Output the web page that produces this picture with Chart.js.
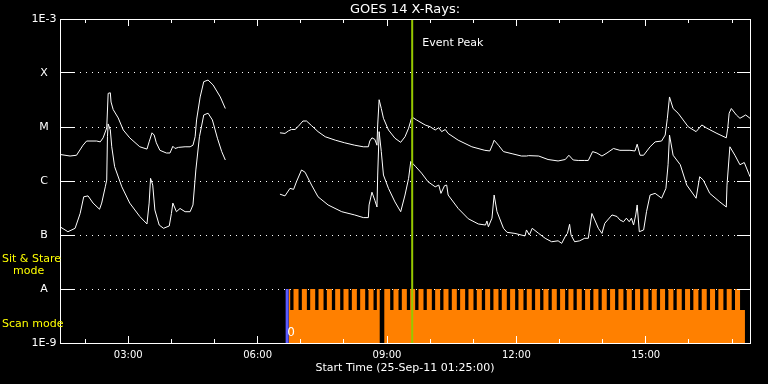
<!DOCTYPE html>
<html><head><meta charset="utf-8">
<script src="https://cdn.jsdelivr.net/npm/chart.js@4"></script>
<style>html,body{margin:0;padding:0;background:#000;}canvas{display:block;}</style>
</head><body>
<canvas id="c" width="768" height="384"></canvas>
<script>
// ---------- DATA ----------
const axisStart = '01:25';
const axisEnd = '17:25';
const xTickLabels = ['03:00', '06:00', '09:00', '12:00', '15:00'];
const xMinorTickLabels = ['02:00','03:00','04:00','05:00','06:00','07:00','08:00','09:00','10:00','11:00','12:00','13:00','14:00','15:00','16:00','17:00'];
const yTickValues = [1e-9, 1e-8, 1e-7, 1e-6, 1e-5, 1e-4, 1e-3];
const yTickLabels = ['1E-9', 'A', 'B', 'C', 'M', 'X', '1E-3'];

// GOES 14 long channel (1-8 A), W/m^2 ; null = data gap
const longTimes = ['01:25','01:39','01:48','01:57','02:02','02:16','02:21','02:25','02:30','02:32',
 '02:35','02:36','02:39','02:46','02:53','03:02','03:16','03:26','03:29','03:33',
 '03:36','03:39','03:44','03:53','03:58','04:02','04:05','04:10','04:19','04:26',
 '04:30','04:33','04:35','04:40','04:45','04:51','04:58','05:08','05:15','05:50',
 '06:31','06:38','06:43','06:47','06:52','06:56','07:03','07:08','07:15','07:24',
 '07:34','07:48','08:01','08:15','08:27','08:34','08:36','08:39','08:43','08:46',
 '08:47','08:49','08:52','08:55','09:02','09:11','09:19','09:25','09:30','09:34',
 '09:36','09:41','09:53','10:00','10:07','10:12','10:16','10:21','10:25','10:39',
 '10:58','11:16','11:23','11:27','11:29','11:35','11:42','11:54','12:07','12:14',
 '12:17','12:31','12:44','12:58','13:08','13:13','13:19','13:26','13:35','13:40',
 '13:46','13:52','13:59','14:06','14:15','14:24','14:38','14:45','14:48','14:52',
 '14:57','15:06','15:13','15:22','15:27','15:30','15:33','15:38','15:45','15:52',
 '15:59','16:10','16:18','16:25','16:39','16:52','16:54','16:56','16:59','17:06',
 '17:11','17:19','17:25'];
const longFlux = [3.1e-6,2.9e-6,3.0e-6,4.6e-6,5.5e-6,5.5e-6,5.3e-6,6.3e-6,9.6e-6,4.2e-5,
 4.3e-5,2.9e-5,2.1e-5,1.47e-5,8.8e-6,6.3e-6,4.3e-6,3.9e-6,5.3e-6,7.8e-6,
 7.1e-6,5.1e-6,3.7e-6,3.3e-6,3.3e-6,4.4e-6,4.0e-6,4.2e-6,4.3e-6,4.3e-6,
 4.6e-6,6.6e-6,1.35e-5,3.6e-5,6.9e-5,7.4e-5,6.0e-5,3.6e-5,2.2e-5,null,
 7.8e-6,7.6e-6,8.5e-6,9.0e-6,9.0e-6,1.01e-5,1.29e-5,1.29e-5,1.06e-5,8.2e-6,
 6.6e-6,5.7e-6,5.1e-6,4.6e-6,4.3e-6,4.3e-6,5.5e-6,6.3e-6,5.9e-6,4.6e-6,
 1.09e-5,3.2e-5,2.2e-5,1.45e-5,8.8e-6,6.2e-6,5.2e-6,6.6e-6,9.5e-6,1.45e-5,
 1.49e-5,1.35e-5,1.09e-5,1.01e-5,8.8e-6,9.7e-6,8.2e-6,9.0e-6,7.6e-6,5.7e-6,
 4.3e-6,3.7e-6,3.6e-6,4.8e-6,5.7e-6,4.6e-6,3.5e-6,3.2e-6,2.9e-6,2.9e-6,
 2.95e-6,2.9e-6,2.5e-6,2.35e-6,2.5e-6,3.0e-6,2.45e-6,2.4e-6,2.4e-6,2.4e-6,
 3.5e-6,3.3e-6,2.9e-6,3.3e-6,4.0e-6,3.7e-6,3.7e-6,3.6e-6,4.8e-6,3.0e-6,
 3.0e-6,4.3e-6,5.3e-6,5.5e-6,7.1e-6,1.45e-5,3.6e-5,2.2e-5,1.8e-5,1.35e-5,
 1.01e-5,8.2e-6,1.09e-5,9.5e-6,7.6e-6,6.3e-6,9.5e-6,1.8e-5,2.2e-5,1.67e-5,
 1.45e-5,1.67e-5,1.45e-5];

// GOES 14 short channel (0.5-4 A), W/m^2
const shortTimes = ['01:25','01:36','01:46','01:53','01:58','02:04','02:11','02:20','02:23','02:28',
 '02:30','02:31','02:32','02:35','02:37','02:41','02:51','03:02','03:16','03:26',
 '03:29','03:31','03:34','03:37','03:43','03:49','03:57','04:00','04:02','04:07',
 '04:12','04:19','04:26','04:30','04:34','04:39','04:45','04:51','04:57','05:04',
 '05:10','05:15','05:50',
 '06:31','06:38','06:45','06:50','06:54','07:01','07:06','07:15','07:24','07:38',
 '07:57','08:15','08:27','08:34','08:35','08:39','08:43','08:46','08:47','08:49',
 '08:52','08:55','09:02','09:11','09:19','09:25','09:30','09:33','09:40','09:48',
 '09:57','10:07','10:12','10:15','10:20','10:23','10:25','10:39','10:53','11:07',
 '11:17','11:19','11:21','11:26','11:29','11:33','11:42','11:47','11:58','12:12',
 '12:14','12:18','12:22','12:31','12:40','12:49','12:58','13:03','13:09','13:11',
 '13:14','13:16','13:21','13:28','13:35','13:40','13:45','13:49','13:54','13:59',
 '14:03','14:13','14:20','14:24','14:29','14:33','14:37','14:40','14:43','14:46',
 '14:48','14:51','14:57','15:01','15:06','15:13','15:22','15:28','15:31','15:33',
 '15:38','15:48','15:57','16:10','16:15','16:20','16:29','16:43','16:52','16:53',
 '16:57','17:04','17:11','17:17','17:23','17:25'];
const shortFlux = [1.42e-7,1.15e-7,1.33e-7,2.5e-7,5.1e-7,5.3e-7,3.9e-7,3.0e-7,3.9e-7,7.8e-7,
 1.04e-6,6.6e-6,1.14e-5,8.8e-6,4.3e-6,1.84e-6,7.8e-7,3.9e-7,2.2e-7,1.6e-7,
 3.9e-7,1.12e-6,8.4e-7,2.9e-7,1.53e-7,1.33e-7,1.47e-7,2.5e-7,3.9e-7,2.7e-7,
 3.1e-7,2.7e-7,2.7e-7,3.6e-7,1.6e-6,6.6e-6,1.67e-5,1.8e-5,1.35e-5,6.2e-6,
 3.5e-6,2.45e-6,null,
 5.7e-7,5.3e-7,7.3e-7,7.0e-7,9.7e-7,1.6e-6,1.45e-6,8.4e-7,5.1e-7,3.6e-7,
 2.7e-7,2.35e-7,2.1e-7,2.1e-7,3.6e-7,6.2e-7,4.4e-7,3.3e-7,1.29e-6,8.2e-6,
 3.5e-6,1.29e-6,7.3e-7,4.1e-7,2.7e-7,5.5e-7,1.12e-6,2.3e-6,1.84e-6,1.4e-6,
 9.7e-7,7.8e-7,8.4e-7,5.9e-7,8.2e-7,8.4e-7,5.5e-7,3.1e-7,2.0e-7,1.6e-7,
 1.53e-7,1.82e-7,1.42e-7,2.05e-7,5.5e-7,2.7e-7,1.33e-7,1.12e-7,1.07e-7,9.6e-8,
 1.24e-7,1.0e-7,1.33e-7,1.07e-7,8.7e-8,7.5e-8,7.8e-8,7.0e-8,1.0e-7,1.07e-7,
 1.58e-7,1.0e-7,7.5e-8,7.8e-8,8.7e-8,8.7e-8,2.5e-7,1.9e-7,1.33e-7,1.07e-7,
 1.65e-7,2.35e-7,2.2e-7,1.9e-7,1.76e-7,2.05e-7,1.76e-7,2.05e-7,1.53e-7,2.35e-7,
 3.6e-7,1.15e-7,1.24e-7,2.7e-7,5.5e-7,5.9e-7,4.8e-7,7.3e-7,2.0e-6,7.1e-6,
 3.0e-6,2.0e-6,8.4e-7,4.8e-7,1.2e-6,1.04e-6,5.9e-7,4.1e-7,3.3e-7,8.4e-7,
 4.3e-6,3.0e-6,2.0e-6,2.2e-6,1.4e-6,1.2e-6];

// Observing mode timeline (sit & stare level vs scan level)
const SIT_LEVEL = 1e-8;
const SCAN_LEVEL = 4.1e-9;
const modeStart = '06:43';
const modeEnd = '17:18';
const modeGapStart = '08:50';
const modeGapEnd = '08:56';
const scanNotchStart = ['06:45:18','06:56:53','07:08:29','07:20:04','07:31:40','07:43:15','07:54:50','08:06:26','08:18:01','08:29:37',
 '08:41:12','09:04:23','09:15:58','09:27:34','09:39:09','09:50:44','10:02:20','10:13:55','10:25:31','10:37:06',
 '10:48:41','11:00:17','11:11:52','11:23:28','11:35:03','11:46:38','11:58:14','12:09:49','12:21:25','12:33:00',
 '12:44:35','12:56:11','13:07:46','13:19:22','13:30:57','13:42:32','13:54:08','14:05:43','14:17:19','14:28:54',
 '14:40:29','14:52:05','15:03:40','15:15:16','15:26:51','15:38:26','15:50:02','16:01:37','16:13:13','16:24:48',
 '16:36:23','16:47:59','16:59:34','17:11:10'];
const scanNotchEnd = ['06:49:54','07:01:29','07:13:05','07:24:40','07:36:16','07:47:51','07:59:26','08:11:02','08:22:37','08:34:13',
 '08:45:48','09:08:59','09:20:34','09:32:10','09:43:45','09:55:20','10:06:56','10:18:31','10:30:07','10:41:42',
 '10:53:17','11:04:53','11:16:28','11:28:04','11:39:39','11:51:14','12:02:50','12:14:25','12:26:01','12:37:36',
 '12:49:11','13:00:47','13:12:22','13:23:58','13:35:33','13:47:08','13:58:44','14:10:19','14:21:55','14:33:30',
 '14:45:05','14:56:41','15:08:16','15:19:52','15:31:27','15:43:02','15:54:38','16:06:13','16:17:49','16:29:24',
 '16:40:59','16:52:35','17:04:10'];
const modeMarkerTime = '06:41';
const eventPeakTime = '09:35';

// ---------- BUILD ----------
function toHours(s){ const p = s.split(':').map(Number); return p[0] + p[1]/60 + (p[2]||0)/3600; }
function series(times, vals){ return times.map((t,i)=>({x:toHours(t), y:vals[i]})); }
function modeSeries(){
  const pts = [{x:toHours(modeStart), y:SIT_LEVEL}];
  const gs = toHours(modeGapStart), ge = toHours(modeGapEnd);
  let gapDone = false;
  for (let i=0;i<scanNotchStart.length;i++){
    const s = toHours(scanNotchStart[i]);
    if (!gapDone && s > gs){
      pts.push({x:gs, y:SIT_LEVEL});
      pts.push({x:(gs+ge)/2, y:null});
      pts.push({x:ge, y:SIT_LEVEL});
      gapDone = true;
    }
    pts.push({x:s, y:SCAN_LEVEL});
    if (i < scanNotchEnd.length) pts.push({x:toHours(scanNotchEnd[i]), y:SIT_LEVEL});
  }
  pts.push({x:toHours(modeEnd), y:SCAN_LEVEL});
  return pts;
}
function vline(t, y0, y1){ return [{x:toHours(t), y:y0}, {x:toHours(t), y:y1}]; }

Chart.defaults.font.family = "'DejaVu Sans', sans-serif";
Chart.defaults.color = '#fff';

const decor = {
  id: 'decor',
  beforeDraw(chart){
    const c = chart.ctx; c.save(); c.fillStyle = '#000'; c.fillRect(0,0,chart.width,chart.height); c.restore();
  },
  afterDatasetsDraw(chart){
    const c = chart.ctx, a = chart.chartArea, x = chart.scales.x, y = chart.scales.y;
    const al = p => Math.round(p - 0.5) + 0.5;
    c.save();
    c.strokeStyle = '#fff'; c.lineWidth = 1;
    c.strokeRect(a.left + 0.5, a.top + 0.5, a.right - a.left, a.bottom - a.top);
    c.beginPath();
    xMinorTickLabels.forEach(t => {
      const px = al(x.getPixelForValue(toHours(t)));
      const len = xTickLabels.includes(t) ? 7 : 4;
      c.moveTo(px, a.bottom); c.lineTo(px, a.bottom - len);
      c.moveTo(px, a.top); c.lineTo(px, a.top + len);
    });
    yTickValues.forEach(v => {
      const py = al(y.getPixelForValue(v));
      c.moveTo(a.left, py); c.lineTo(a.left + 14, py);
      c.moveTo(a.right, py); c.lineTo(a.right - 13, py);
    });
    c.stroke();
    // annotations
    const yA = y.getPixelForValue(SIT_LEVEL);
    c.textBaseline = 'middle';
    c.fillStyle = '#ffff00';
    c.font = "11px 'DejaVu Sans'";
    c.textAlign = 'left';
    c.fillText('Sit & Stare', 2, yA - 30);
    c.fillText('mode', 13, yA - 18);
    c.fillText('Scan mode', 2, yA + 35);
    c.fillStyle = '#fff';
    c.fillText('Event Peak', x.getPixelForValue(toHours(eventPeakTime)) + 10, a.top + 24);
    c.font = "12px 'DejaVu Sans'";
    c.textAlign = 'center';
    c.fillText('0', x.getPixelForValue(toHours(modeMarkerTime)) + 4, yA + 44);
    c.restore();
  }
};

new Chart(document.getElementById('c'), {
  type: 'line',
  data: {
    datasets: [
      { label:'Event Peak', data: vline(eventPeakTime, 1e-9, 1e-3), borderColor:'rgb(150,200,0)', borderWidth:2, pointRadius:0 },
      { label:'Long', data: series(longTimes, longFlux), borderColor:'#fff', borderWidth:1, pointRadius:0, spanGaps:false, tension:0 },
      { label:'Short', data: series(shortTimes, shortFlux), borderColor:'#fff', borderWidth:1, pointRadius:0, spanGaps:false, tension:0 },
      { label:'Mode start', data: vline(modeMarkerTime, 1e-9, SIT_LEVEL), borderColor:'#5a5aff', borderWidth:3, pointRadius:0 },
      { label:'Mode', data: modeSeries(), stepped:true, fill:'start', backgroundColor:'#ff8000', borderColor:'rgba(0,0,0,0)', borderWidth:0, pointRadius:0, spanGaps:false }
    ]
  },
  options: {
    responsive: false,
    animation: false,
    devicePixelRatio: 1,
    layout: { padding: { left:0, right:18, top:0, bottom:0 } },
    plugins: {
      legend: { display:false },
      tooltip: { enabled:false },
      title: { display:true, fullSize:false, text:'GOES 14 X-Rays:', color:'#fff', font:{ size:13, weight:'normal' }, padding:{ top:1.5, bottom:1.9 } }
    },
    scales: {
      x: {
        type:'linear', min: toHours(axisStart), max: toHours(axisEnd),
        afterBuildTicks: ax => { ax.ticks = xTickLabels.map(l => ({ value: toHours(l) })); },
        afterFit: ax => { ax.height = 41; },
        ticks: { color:'#fff', font:{ size:10 }, padding:6, maxRotation:0, autoSkip:false, callback:(v,i)=>xTickLabels[i] },
        grid: { display:false, drawTicks:false },
        border: { display:false },
        title: { display:true, text:'Start Time (25-Sep-11 01:25:00)', color:'#fff', font:{ size:11 }, padding:{ top:0, bottom:9 } }
      },
      y: {
        type:'logarithmic', min:1e-9, max:1e-3,
        afterBuildTicks: ax => { ax.ticks = yTickValues.map(v => ({ value: v })); },
        afterFit: ax => { ax.width = 60; },
        ticks: { color:'#fff', font:{ size:11 }, padding:3.5, crossAlign:'center', autoSkip:false, callback:(v,i)=>yTickLabels[i] },
        grid: { drawTicks:false, lineWidth:1, color: ctx => (ctx.tick && (ctx.tick.value === 1e-3 || ctx.tick.value === 1e-9)) ? 'rgba(0,0,0,0)' : '#fff' },
        border: { display:false, dash:[1,5], dashOffset:4 }
      }
    }
  },
  plugins: [decor]
});
</script>
</body></html>
